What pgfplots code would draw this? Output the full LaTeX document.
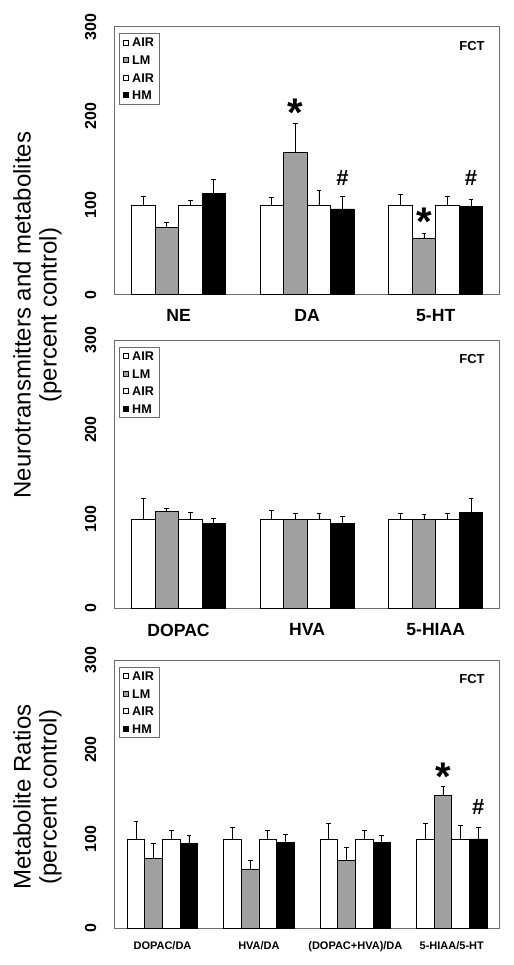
\documentclass[border=0pt]{standalone}
\usepackage{pgfplots}
\pgfplotsset{compat=1.18}
\usepackage{pgfplotstable}
\usepackage{fontspec}
\setmainfont{Liberation Sans}
\definecolor{lmgray}{RGB}{160,160,160}
\definecolor{axgray}{RGB}{110,110,110}

\pgfplotstableread{
x air aire lm lme airb airbe hm hme
0 100 10.5 75.5 6   100 5.5 113 16
1 100 8.5  159  32.5 100 17 96  13.5
2 100 12.5 63.5 5   100 9.5 99  7.5
}\tA
\pgfplotstableread{
x air aire lm lme airb airbe hm hme
0 100 22.5 108.5 3.5 100 7.5 94.5 6.5
1 100 10   99    7.5 100 6   95   8
2 100 6    99    6   100 6   107.5 15
}\tB
\pgfplotstableread{
x air aire lm lme airb airbe hm hme
0 100 20   78   17  100 10   95  8.5
1 100 12.5 66.5 9.5 100 10   96  9.5
2 100 17   75.5 15  100 10   96  8
3 100 17   149  9.5 100 15.5 100 12.5
}\tC

\pgfplotsset{
  panel/.style={
    scale only axis, width=192.85pt, height=134pt,
    anchor=south west,
    ybar, bar width=0.183,
    ymin=0, ymax=300, ytick={0,100,200,300},
    axis line style={draw=axgray, line width=0.5pt},
    major tick length=0pt,
    yticklabel style={rotate=90, anchor=south, inner sep=0pt, font=\fontsize{8}{8}\selectfont\bfseries},
    yticklabel shift=8.8pt,
    xticklabel style={anchor=north, inner sep=0pt},
    /pgf/number format/assume math mode=true,
    legend style={at={(0,1)}, anchor=north west, xshift=2.35pt, yshift=-3.2pt,
      draw=axgray, line width=0.4pt, font=\fontsize{6.3}{6.3}\selectfont\bfseries,
      inner xsep=2pt, inner ysep=1.5pt, row sep=3pt, column sep=1pt,
      nodes={inner sep=0.6pt, text height=4.6pt, text depth=0pt},
      legend cell align=left},
    legend image code/.code={\draw[#1, line width=0.3pt] (0pt,-1.25pt) rectangle (2.5pt,1.25pt);},
    every axis plot/.append style={draw=black, line width=0.4pt},
    error bars/error bar style={black, line width=0.4pt},
    error bars/error mark options={rotate=90, mark size=1.2pt, black, line width=0.4pt},
  },
}
\tikzset{
  sigstar/.style={anchor=north, inner sep=0pt, font=\fontsize{20}{20}\selectfont\bfseries},
  sighash/.style={anchor=south, inner sep=0pt, font=\fontsize{11}{11}\selectfont\bfseries},
  fct/.style={anchor=north east, inner sep=0pt, xshift=-7.5pt, yshift=-7pt, font=\fontsize{6.5}{6.5}\selectfont\bfseries},
}

\newcommand{\fourbars}[1]{%
  \addplot[fill=white, bar shift=-0.2745, error bars/.cd, y dir=plus, y explicit] table[x=x, y=air, y error=aire] {#1};
  \addplot[fill=lmgray, bar shift=-0.0915, error bars/.cd, y dir=plus, y explicit] table[x=x, y=lm, y error=lme] {#1};
  \addplot[fill=white, bar shift=0.0915, error bars/.cd, y dir=plus, y explicit] table[x=x, y=airb, y error=airbe] {#1};
  \addplot[fill=black, bar shift=0.2745, error bars/.cd, y dir=plus, y explicit] table[x=x, y=hm, y error=hme] {#1};
  \legend{AIR, LM, AIR, HM}%
}

\begin{document}
\begin{tikzpicture}
\useasboundingbox (0pt,0pt) rectangle (257pt,-482.5pt);

\begin{axis}[panel, at={(57.15pt,-147.35pt)},
  xmin=-0.5, xmax=2.5, xtick={0,1,2}, xticklabels={NE, DA, 5-HT},
  xticklabel shift=7.3pt,
  xticklabel style={font=\fontsize{8.8}{8.8}\selectfont\bfseries}]
\fourbars{\tA}
\node[sigstar] at (axis cs:0.9085,220) {*};
\node[sigstar] at (axis cs:1.9085,97.5) {*};
\node[sighash] at (axis cs:1.2745,122) {\#};
\node[sighash] at (axis cs:2.2745,122) {\#};
\node[fct] at (rel axis cs:1,1) {FCT};
\end{axis}

\begin{axis}[panel, at={(57.15pt,-304.15pt)},
  xmin=-0.5, xmax=2.5, xtick={0,1,2}, xticklabels={DOPAC, HVA, 5-HIAA},
  xticklabel shift=7.5pt,
  xticklabel style={font=\fontsize{8.8}{8.8}\selectfont\bfseries}]
\fourbars{\tB}
\node[fct] at (rel axis cs:1,1) {FCT};
\end{axis}

\begin{axis}[panel, at={(57.15pt,-464.15pt)},
  xmin=-0.5, xmax=3.5, xtick={0,1,2,3}, xticklabels={DOPAC/DA, HVA/DA, (DOPAC+HVA)/DA, 5-HIAA/5-HT},
  xticklabel shift=6.5pt,
  xticklabel style={font=\fontsize{5.5}{5.5}\selectfont\bfseries}]
\fourbars{\tC}
\node[sigstar] at (axis cs:2.9085,186) {*};
\node[sighash] at (axis cs:3.2745,126.5) {\#};
\node[fct] at (rel axis cs:1,1) {FCT};
\end{axis}

\node[rotate=90, align=center, font=\fontsize{12}{13}\selectfont] at (18.75pt,-157.5pt)
  {Neurotransmitters and metabolites\\(percent control)};
\node[rotate=90, align=center, font=\fontsize{12}{13}\selectfont] at (18.75pt,-398.5pt)
  {Metabolite Ratios\\(percent control)};
\end{tikzpicture}
\end{document}
